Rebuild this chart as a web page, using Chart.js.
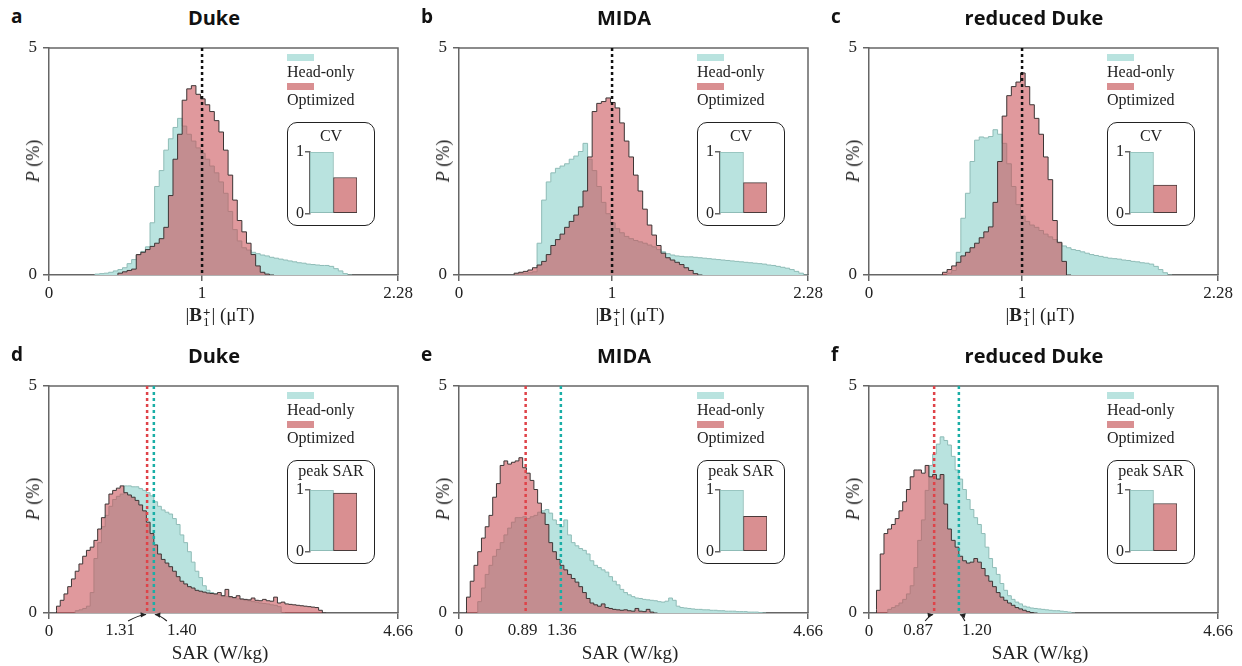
<!DOCTYPE html>
<html>
<head>
<meta charset="utf-8">
<title>B1 and SAR histograms</title>
<script src="https://cdn.jsdelivr.net/npm/chart.js@4.4.1/dist/chart.umd.min.js"></script>
<style>
  html, body { margin: 0; padding: 0; background: #fff; }
  body { width: 1242px; height: 666px; position: relative; overflow: hidden; font-family: 'Liberation Serif', 'Times New Roman', serif; color: #222; }
  .panel { position: absolute; width: 420px; height: 330px; }
  .panel canvas { position: absolute; }
  .letter { position: absolute; left: 11px; font: bold 19px 'Open Sans', sans-serif; color: #111; line-height: 22px; }
  .title { position: absolute; left: 114px; width: 200px; text-align: center; font: bold 20px 'Open Sans', sans-serif; color: #111; line-height: 24px; white-space: nowrap; }
  .swatch { position: absolute; left: 287px; width: 27px; height: 7px; }
  .legtext { position: absolute; left: 287px; font-size: 16px; line-height: 18px; white-space: nowrap; }
  .inset { position: absolute; left: 287px; width: 86px; height: 102px; border: 1.5px solid #222; border-radius: 10px; }
  .insettitle { position: absolute; left: 0; right: 0; text-align: center; font-size: 16px; line-height: 18px; white-space: nowrap; }
  .ytitle { position: absolute; left: 33px; font-size: 18px; line-height: 20px; white-space: nowrap; transform: translate(-50%, -50%) rotate(-90deg); }
  .xtitle { position: absolute; left: 220px; font-size: 19px; line-height: 22px; white-space: nowrap; transform: translate(-50%, -50%); }
  .ss { display: inline-block; vertical-align: middle; line-height: 10px; font-size: 13px; text-align: left; margin: 0 1px; }
</style>
</head>
<body>
<script>
// ---------- data ----------
var b1Ticks = [0, 1, 2.28]
var sarTicks = [0, 4.66]
var b1Bin = 0.03
var sarBin = 0.05
var b1Mean = 1

var panelTitles = ['Duke', 'MIDA', 'reduced Duke']
var topLetters = ['a', 'b', 'c']
var bottomLetters = ['d', 'e', 'f']
var seriesNames = ['Head-only', 'Optimized']

// |B1+| histograms (P in %), bins of 0.03 uT starting at *Start
var dukeB1HeadStart = 0.30
var dukeB1Head = [0.01, 0.02, 0.03, 0.04, 0.06, 0.09, 0.12, 0.16, 0.25, 0.34, 0.44, 0.52, 0.62, 1.15, 1.95, 2.3, 2.75, 3.0, 3.25, 3.45, 3.28, 3.1, 2.95, 2.8, 2.68, 2.55, 2.4, 2.25, 2.05, 1.8, 1.4, 1.0, 0.75, 0.6, 0.55, 0.5, 0.47, 0.44, 0.42, 0.39, 0.37, 0.35, 0.33, 0.31, 0.29, 0.27, 0.26, 0.24, 0.23, 0.22, 0.21, 0.21, 0.19, 0.14, 0.09, 0.03]
var dukeB1OptStart = 0.45
var dukeB1Opt = [0.02, 0.04, 0.07, 0.1, 0.13, 0.45, 0.5, 0.56, 0.63, 0.7, 0.8, 1.05, 1.75, 2.55, 3.1, 3.85, 4.1, 4.17, 3.98, 3.88, 3.75, 3.6, 3.4, 3.15, 2.75, 2.2, 1.65, 1.2, 0.95, 0.7, 0.45, 0.2, 0.06, 0.02]

var midaB1HeadStart = 0.36
var midaB1Head = [0.01, 0.02, 0.03, 0.04, 0.05, 0.07, 0.7, 1.65, 2.05, 2.25, 2.35, 2.4, 2.45, 2.55, 2.62, 2.72, 2.9, 2.55, 2.3, 1.95, 1.6, 1.35, 1.15, 1.02, 0.93, 0.85, 0.8, 0.76, 0.73, 0.7, 0.66, 0.62, 0.56, 0.51, 0.47, 0.44, 0.42, 0.41, 0.4, 0.4, 0.39, 0.38, 0.37, 0.36, 0.35, 0.34, 0.33, 0.32, 0.31, 0.3, 0.29, 0.28, 0.27, 0.26, 0.25, 0.24, 0.22, 0.21, 0.19, 0.17, 0.15, 0.12, 0.08, 0.04]
var midaB1OptStart = 0.36
var midaB1Opt = [0.02, 0.04, 0.06, 0.08, 0.11, 0.16, 0.22, 0.3, 0.45, 0.65, 0.78, 0.9, 1.05, 1.18, 1.32, 1.5, 1.85, 2.6, 3.6, 3.78, 3.82, 3.9, 3.8, 3.68, 3.35, 2.95, 2.6, 2.2, 1.85, 1.45, 1.1, 0.88, 0.65, 0.48, 0.38, 0.33, 0.28, 0.23, 0.16, 0.1, 0.03]

var redDukeB1HeadStart = 0.51
var redDukeB1Head = [0.02, 0.04, 0.1, 0.5, 1.25, 1.8, 2.5, 2.97, 3.04, 3.02, 3.05, 3.2, 3.1, 2.9, 2.45, 1.95, 1.55, 1.3, 1.18, 1.1, 1.05, 0.98, 0.9, 0.84, 0.78, 0.7, 0.64, 0.6, 0.56, 0.54, 0.51, 0.48, 0.45, 0.43, 0.41, 0.39, 0.37, 0.36, 0.35, 0.33, 0.32, 0.3, 0.29, 0.27, 0.26, 0.24, 0.19, 0.12, 0.05]
var redDukeB1OptStart = 0.48
var redDukeB1Opt = [0.02, 0.06, 0.12, 0.2, 0.28, 0.42, 0.5, 0.6, 0.7, 0.82, 0.95, 1.06, 1.6, 2.5, 3.5, 3.95, 4.15, 4.25, 4.45, 4.15, 3.75, 3.45, 3.1, 2.6, 2.1, 1.2, 0.72, 0.3]

// SAR histograms (P in %), bins of 0.05 W/kg starting at *Start
var dukeSarHeadStart = 0.35
var dukeSarHead = [0.03, 0.05, 0.07, 0.1, 0.15, 0.45, 1.2, 1.55, 1.9, 2.15, 2.35, 2.5, 2.57, 2.62, 2.8, 2.8, 2.78, 2.78, 2.74, 2.7, 2.65, 2.58, 2.45, 2.35, 2.27, 2.22, 2.18, 2.08, 1.95, 1.72, 1.55, 1.35, 1.12, 0.92, 0.78, 0.6, 0.5, 0.45, 0.42, 0.4, 0.38, 0.36, 0.35, 0.33, 0.31, 0.3, 0.28, 0.27, 0.25, 0.24, 0.22, 0.21, 0.2, 0.18, 0.17, 0.14]
var dukeSarOptStart = 0.10
var dukeSarOpt = [0.05, 0.15, 0.28, 0.42, 0.58, 0.75, 0.92, 1.08, 1.25, 1.38, 1.45, 1.6, 1.85, 2.1, 2.4, 2.62, 2.7, 2.75, 2.8, 2.65, 2.6, 2.55, 2.48, 2.38, 2.25, 2.0, 1.75, 1.5, 1.3, 1.18, 1.1, 1.02, 0.92, 0.8, 0.7, 0.64, 0.58, 0.55, 0.5, 0.48, 0.46, 0.44, 0.43, 0.42, 0.45, 0.38, 0.52, 0.36, 0.34, 0.38, 0.31, 0.3, 0.29, 0.33, 0.28, 0.27, 0.3, 0.27, 0.26, 0.35, 0.22, 0.24, 0.2, 0.19, 0.18, 0.17, 0.16, 0.15, 0.14, 0.13, 0.12, 0.06]

var midaSarHeadStart = 0.25
var midaSarHead = [0.05, 0.25, 0.55, 0.85, 1.05, 1.25, 1.4, 1.55, 1.72, 1.87, 2.0, 2.1, 2.1, 2.12, 2.08, 2.12, 2.15, 2.22, 2.25, 2.28, 2.2, 2.05, 1.95, 1.9, 2.05, 1.72, 1.55, 1.48, 1.42, 1.38, 1.3, 1.15, 1.05, 1.0, 0.95, 0.9, 0.8, 0.7, 0.62, 0.52, 0.45, 0.4, 0.36, 0.33, 0.32, 0.3, 0.29, 0.28, 0.27, 0.25, 0.24, 0.26, 0.33, 0.28, 0.15, 0.12, 0.11, 0.1, 0.09, 0.08, 0.08, 0.07, 0.07, 0.06, 0.06, 0.05, 0.05, 0.04, 0.04, 0.04, 0.03, 0.03, 0.03, 0.02, 0.02, 0.02, 0.01]
var midaSarOptStart = 0.10
var midaSarOpt = [0.06, 0.35, 0.7, 1.05, 1.35, 1.65, 1.9, 2.15, 2.55, 2.85, 3.25, 3.35, 3.28, 3.32, 3.35, 3.42, 3.2, 3.08, 2.92, 2.72, 2.42, 2.2, 1.95, 1.55, 1.35, 1.18, 1.05, 0.95, 0.85, 0.76, 0.68, 0.58, 0.45, 0.32, 0.22, 0.18, 0.15, 0.2, 0.12, 0.1, 0.08, 0.07, 0.06, 0.07, 0.05, 0.04, 0.1, 0.04, 0.03, 0.08, 0.02]

var redDukeSarHeadStart = 0.25
var redDukeSarHead = [0.04, 0.08, 0.12, 0.16, 0.22, 0.3, 0.42, 0.6, 1.0, 1.6, 2.05, 2.7, 3.25, 3.5, 3.72, 3.88, 3.8, 3.7, 3.45, 3.15, 2.95, 2.72, 2.5, 2.28, 2.1, 1.95, 1.75, 1.45, 1.2, 1.0, 0.85, 0.65, 0.5, 0.38, 0.3, 0.24, 0.2, 0.15, 0.13, 0.11, 0.1, 0.09, 0.08, 0.07, 0.06, 0.05, 0.05, 0.04, 0.03, 0.02]
var redDukeSarOptStart = 0.10
var redDukeSarOpt = [0.08, 0.5, 1.3, 1.75, 1.85, 1.95, 2.08, 2.25, 2.45, 2.72, 3.0, 3.15, 3.15, 3.08, 3.25, 3.0, 3.05, 2.95, 3.05, 2.4, 1.85, 1.6, 1.45, 1.25, 1.15, 1.1, 1.12, 1.2, 1.12, 0.98, 0.82, 0.7, 0.58, 0.45, 0.35, 0.28, 0.22, 0.17, 0.12, 0.09, 0.06, 0.03, 0.01]

// mean SAR (W/kg) marked by the dashed lines
var sarMeanHead = [1.40, 1.36, 1.20]
var sarMeanOpt = [1.31, 0.89, 0.87]

// inset bars, normalised to head-only
var cvHead = [1, 1, 1]
var cvOpt = [0.585, 0.50, 0.46]
var peakSarHead = [1, 1, 1]
var peakSarOpt = [0.95, 0.57, 0.78]

// ---------- styling ----------
Chart.defaults.font.family = "'Liberation Serif', 'Times New Roman', serif"
Chart.defaults.font.size = 16
Chart.defaults.color = '#222'

var headFill = '#b9e3df'
var headLine = '#8fbcb7'
var optFill = 'rgba(201, 80, 86, 0.58)'
var optLine = '#3d3535'
var optSolid = '#d98f91'
var axisColor = '#666'
var headDash = '#1aaea6'
var optDash = '#df4349'
var tickFont = { size: 17 }

// where the SAR labels sit relative to their line (px), and where the arrow starts
var sarLabelLayout = [
  { opt: { dx: -27, ax: -19 }, head: { dx: 28, ax: 13 } },
  { opt: { dx: -3, ax: null }, head: { dx: 1, ax: null } },
  { opt: { dx: -16, ax: -9 }, head: { dx: 18, ax: 6 } }
]

function histPoints(start, bin, vals) {
  var pts = [{ x: start, y: 0 }]
  for (var i = 0; i < vals.length; i++) {
    pts.push({ x: +(start + i * bin).toFixed(3), y: vals[i] })
  }
  pts.push({ x: +(start + vals.length * bin).toFixed(3), y: 0 })
  return pts
}

function drawArrow(ctx, x0, y0, x1, y1) {
  var cx = x0 + (x1 - x0) * 0.6
  var cy = y1 + 0.5
  ctx.strokeStyle = '#222'
  ctx.fillStyle = '#222'
  ctx.lineWidth = 1.2
  ctx.setLineDash([])
  ctx.beginPath()
  ctx.moveTo(x0, y0)
  ctx.quadraticCurveTo(cx, cy, x1, y1)
  ctx.stroke()
  var ang = Math.atan2(y1 - cy, x1 - cx)
  ctx.beginPath()
  ctx.moveTo(x1, y1)
  ctx.lineTo(x1 - 6 * Math.cos(ang - 0.45), y1 - 6 * Math.sin(ang - 0.45))
  ctx.lineTo(x1 - 6 * Math.cos(ang + 0.45), y1 - 6 * Math.sin(ang + 0.45))
  ctx.closePath()
  ctx.fill()
}

function markerPlugin(lines) {
  return {
    id: 'markers',
    afterDatasetsDraw: function (chart) {
      var ctx = chart.ctx
      var a = chart.chartArea
      var x = chart.scales.x
      ctx.save()
      // top and right edge of the frame
      ctx.strokeStyle = axisColor
      ctx.lineWidth = 1.5
      ctx.beginPath()
      ctx.moveTo(a.left, a.top)
      ctx.lineTo(a.right, a.top)
      ctx.lineTo(a.right, a.bottom)
      ctx.stroke()
      for (var i = 0; i < lines.length; i++) {
        var l = lines[i]
        var px = x.getPixelForValue(l.value)
        ctx.strokeStyle = l.color
        ctx.lineWidth = 2.5
        ctx.setLineDash([3, 3])
        ctx.beginPath()
        ctx.moveTo(px, a.top)
        ctx.lineTo(px, a.bottom)
        ctx.stroke()
        if (l.label) {
          ctx.fillStyle = '#222'
          ctx.font = "17px 'Liberation Serif', serif"
          ctx.textAlign = 'center'
          ctx.textBaseline = 'middle'
          ctx.fillText(l.label, px + l.dx, a.bottom + 18)
          if (l.ax !== null) {
            drawArrow(ctx, px + l.ax, a.bottom + 8, px + (l.ax < 0 ? -1 : 1), a.bottom + 1.5)
          }
        }
      }
      ctx.restore()
    }
  }
}

function addDiv(parent, cls, html, css) {
  var d = document.createElement('div')
  d.className = cls
  d.innerHTML = html
  for (var k in css) d.style[k] = css[k]
  parent.appendChild(d)
  return d
}

function drawPanel(p) {
  var panel = document.createElement('div')
  panel.className = 'panel'
  panel.style.left = p.left + 'px'
  panel.style.top = p.top + 'px'
  document.body.appendChild(panel)
  var s = p.shift

  addDiv(panel, 'letter', p.letter, { top: (5 + s) + 'px' })
  addDiv(panel, 'title', p.title, { top: (6 + s) + 'px' })

  var canvas = document.createElement('canvas')
  canvas.width = 420
  canvas.height = 330
  canvas.style.left = '0px'
  canvas.style.top = '0px'
  panel.appendChild(canvas)

  new Chart(canvas, {
    type: 'line',
    data: {
      datasets: [{
        label: seriesNames[1],
        data: histPoints(p.optStart, p.bin, p.opt),
        stepped: 'after',
        fill: 'origin',
        backgroundColor: optFill,
        borderColor: optLine,
        borderWidth: 1,
        pointRadius: 0,
        order: 1
      }, {
        label: seriesNames[0],
        data: histPoints(p.headStart, p.bin, p.head),
        stepped: 'after',
        fill: 'origin',
        backgroundColor: headFill,
        borderColor: headLine,
        borderWidth: 1,
        pointRadius: 0,
        order: 2
      }]
    },
    options: {
      responsive: false,
      animation: false,
      layout: { padding: { left: 0, right: 22, top: 48 + s, bottom: 15 - s } },
      plugins: { legend: { display: false }, tooltip: { enabled: false } },
      scales: {
        x: {
          type: 'linear',
          min: 0,
          max: p.xTicks[p.xTicks.length - 1],
          afterBuildTicks: function (sc) { sc.ticks = p.xTicks.map(function (v) { return { value: v } }) },
          afterFit: function (sc) { sc.height = 40 },
          ticks: { padding: 2, font: tickFont, maxRotation: 0, autoSkip: false, callback: function (v) { return String(v) } },
          grid: { drawOnChartArea: false, tickLength: 6, color: axisColor, lineWidth: 1.5 },
          border: { color: axisColor, width: 1.5 }
        },
        y: {
          min: 0,
          max: 5,
          afterBuildTicks: function (sc) { sc.ticks = [{ value: 0 }, { value: 5 }] },
          afterFit: function (sc) { sc.width = 49 },
          ticks: { padding: 6, font: tickFont },
          grid: { drawOnChartArea: false, tickLength: 6, color: axisColor, lineWidth: 1.5 },
          border: { color: axisColor, width: 1.5 }
        }
      }
    },
    plugins: [markerPlugin(p.lines)]
  })

  addDiv(panel, 'ytitle', '<i>P</i> (%)', { top: (161 + s) + 'px' })
  addDiv(panel, 'xtitle', p.xTitle, { top: (315 + s) + 'px' })

  // legend
  addDiv(panel, 'swatch', '', { top: (54 + s) + 'px', background: headFill })
  addDiv(panel, 'legtext', seriesNames[0], { top: (63 + s) + 'px' })
  addDiv(panel, 'swatch', '', { top: (83 + s) + 'px', background: optSolid })
  addDiv(panel, 'legtext', seriesNames[1], { top: (91 + s) + 'px' })

  // inset
  var box = addDiv(panel, 'inset', '', { top: (122 + s) + 'px' })
  addDiv(box, 'insettitle', p.insetTitle, { top: p.insetTitleTop + 'px' })
  var ic = document.createElement('canvas')
  ic.width = 80
  ic.height = 84
  ic.style.left = '288px'
  ic.style.top = (140 + s) + 'px'
  panel.appendChild(ic)
  new Chart(ic, {
    type: 'bar',
    data: {
      labels: seriesNames,
      datasets: [{
        data: p.insetVals,
        backgroundColor: [headFill, optSolid],
        borderColor: [headLine, '#4a3b3b'],
        borderWidth: 1,
        borderSkipped: false,
        categoryPercentage: 1,
        barPercentage: 1
      }]
    },
    options: {
      responsive: false,
      animation: false,
      layout: { padding: { left: 0, right: 11, top: 12, bottom: 8 } },
      plugins: { legend: { display: false }, tooltip: { enabled: false } },
      scales: {
        x: { display: false },
        y: {
          min: 0,
          max: 1,
          afterBuildTicks: function (sc) { sc.ticks = [{ value: 0 }, { value: 1 }] },
          afterFit: function (sc) { sc.width = 22 },
          ticks: { padding: 1 },
          grid: { drawOnChartArea: false, tickLength: 5, color: axisColor, lineWidth: 1.5 },
          border: { color: axisColor, width: 1.5 }
        }
      }
    }
  })
}

var b1Title = '|<b>B</b><span class="ss"><b>+</b><br>1</span>| (\u03bcT)'
var sarTitle = 'SAR (W/kg)'

var b1Head = [dukeB1Head, midaB1Head, redDukeB1Head]
var b1HeadStart = [dukeB1HeadStart, midaB1HeadStart, redDukeB1HeadStart]
var b1Opt = [dukeB1Opt, midaB1Opt, redDukeB1Opt]
var b1OptStart = [dukeB1OptStart, midaB1OptStart, redDukeB1OptStart]
var sarHead = [dukeSarHead, midaSarHead, redDukeSarHead]
var sarHeadStart = [dukeSarHeadStart, midaSarHeadStart, redDukeSarHeadStart]
var sarOpt = [dukeSarOpt, midaSarOpt, redDukeSarOpt]
var sarOptStart = [dukeSarOptStart, midaSarOptStart, redDukeSarOptStart]

for (var i = 0; i < 3; i++) {
  drawPanel({
    left: 410 * i, top: 0, shift: 0,
    letter: topLetters[i], title: panelTitles[i],
    head: b1Head[i], headStart: b1HeadStart[i],
    opt: b1Opt[i], optStart: b1OptStart[i],
    bin: b1Bin, xTicks: b1Ticks, xTitle: b1Title,
    lines: [{ value: b1Mean, color: '#111', label: null }],
    insetTitle: 'CV', insetTitleTop: 4, insetVals: [cvHead[i], cvOpt[i]]
  })
  var lay = sarLabelLayout[i]
  drawPanel({
    left: 410 * i, top: 330, shift: 8,
    letter: bottomLetters[i], title: panelTitles[i],
    head: sarHead[i], headStart: sarHeadStart[i],
    opt: sarOpt[i], optStart: sarOptStart[i],
    bin: sarBin, xTicks: sarTicks, xTitle: sarTitle,
    lines: [
      { value: sarMeanOpt[i], color: optDash, label: sarMeanOpt[i].toFixed(2), dx: lay.opt.dx, ax: lay.opt.ax },
      { value: sarMeanHead[i], color: headDash, label: sarMeanHead[i].toFixed(2), dx: lay.head.dx, ax: lay.head.ax }
    ],
    insetTitle: 'peak SAR', insetTitleTop: 1, insetVals: [peakSarHead[i], peakSarOpt[i]]
  })
}
</script>
</body>
</html>
